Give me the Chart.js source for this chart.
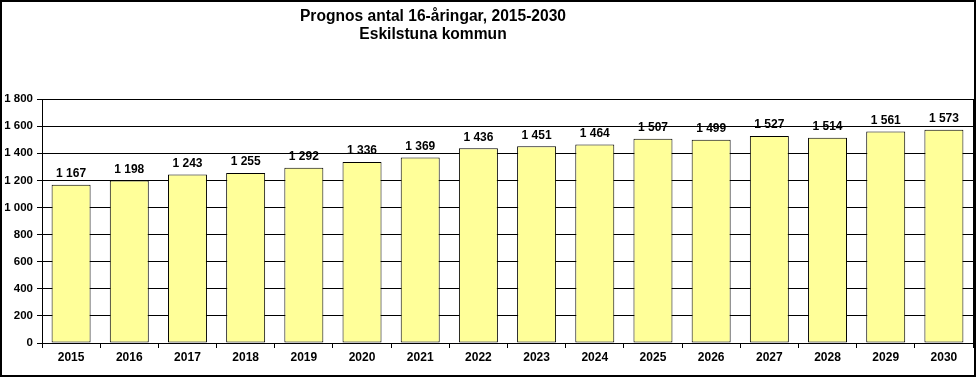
<!DOCTYPE html>
<html>
<head>
<meta charset="utf-8">
<title>Prognos antal 16-åringar, 2015-2030</title>
<script src="https://cdn.jsdelivr.net/npm/chart.js"></script>
<style>
    html, body {
        margin: 0;
        padding: 0;
        background: #fff;
    }
    #wrap {
        width: 977px;
        height: 377px;
        position: relative;
    }
</style>
</head>
<body>
<div id="wrap">
    <canvas id="chart" width="977" height="377"></canvas>
</div>
<script>
// Data
const years = ['2015', '2016', '2017', '2018', '2019', '2020', '2021', '2022',
    '2023', '2024', '2025', '2026', '2027', '2028', '2029', '2030'];
const antal16 = [1167, 1198, 1243, 1255, 1292, 1336, 1369, 1436,
    1451, 1464, 1507, 1499, 1527, 1514, 1561, 1573];
const yTickValues = [0, 200, 400, 600, 800, 1000, 1200, 1400, 1600, 1800];
const titleLines = ['Prognos antal 16-åringar, 2015-2030', 'Eskilstuna kommun'];

const fontFamily = "'Liberation Sans', Arial, sans-serif";

// Swedish style number: 1 167
function fmt(v) {
    return String(v).replace(/\B(?=(\d{3})+(?!\d))/g, ' ');
}

// Title, value labels, outer frame and right edge of plot area
const decorations = {
    id: 'decorations',
    afterDraw(chart) {
        const ctx = chart.ctx;
        const area = chart.chartArea;
        ctx.save();

        // frame round the whole chart
        ctx.strokeStyle = '#000';
        ctx.lineWidth = 2;
        ctx.strokeRect(1, 1, chart.width - 3, chart.height - 2);

        // right edge of plot area
        ctx.lineWidth = 1;
        ctx.beginPath();
        ctx.moveTo(Math.round(area.right) + 0.5, area.top);
        ctx.lineTo(Math.round(area.right) + 0.5, area.bottom);
        ctx.stroke();

        // title
        ctx.fillStyle = '#000';
        ctx.font = 'bold 15.6px ' + fontFamily;
        ctx.textAlign = 'center';
        ctx.textBaseline = 'middle';
        ctx.fillText(titleLines[0], 433, 17);
        ctx.fillText(titleLines[1], 433, 35);

        // value labels above bars
        ctx.font = 'bold 12px ' + fontFamily;
        ctx.textBaseline = 'bottom';
        const meta = chart.getDatasetMeta(0);
        meta.data.forEach((bar, i) => {
            ctx.fillText(fmt(antal16[i]), bar.x, bar.y - 5);
        });
        ctx.restore();
    }
};

new Chart(document.getElementById('chart'), {
    type: 'bar',
    data: {
        labels: years,
        datasets: [{
            label: 'Antal 16-åringar',
            data: antal16,
            backgroundColor: '#FFFF99',
            borderColor: '#000',
            borderWidth: 1,
            borderSkipped: false,
            barPercentage: 0.67,
            categoryPercentage: 1
        }]
    },
    options: {
        responsive: false,
        animation: false,
        layout: {
            padding: { top: 99, right: 4, left: 0, bottom: 0 }
        },
        plugins: {
            legend: { display: false },
            title: { display: false },
            tooltip: { enabled: false }
        },
        scales: {
            x: {
                afterFit(scale) { scale.height = 34; },
                grid: {
                    offset: true,
                    drawOnChartArea: false,
                    drawTicks: true,
                    tickLength: 5,
                    color: '#000'
                },
                border: { color: '#000', width: 1 },
                ticks: {
                    color: '#000',
                    padding: 2,
                    maxRotation: 0,
                    autoSkip: false,
                    font: { family: fontFamily, size: 12, weight: 'bold' }
                }
            },
            y: {
                min: 0,
                max: 1800,
                afterFit(scale) { scale.width = 42; },
                afterBuildTicks(scale) {
                    scale.ticks = yTickValues.map(v => ({ value: v }));
                },
                grid: {
                    color: '#000',
                    lineWidth: 1,
                    tickLength: 5
                },
                border: { color: '#000', width: 1 },
                ticks: {
                    color: '#000',
                    padding: 4,
                    font: { family: fontFamily, size: 11.5, weight: 'bold' },
                    callback: v => fmt(v)
                }
            }
        }
    },
    plugins: [decorations]
});
</script>
</body>
</html>
